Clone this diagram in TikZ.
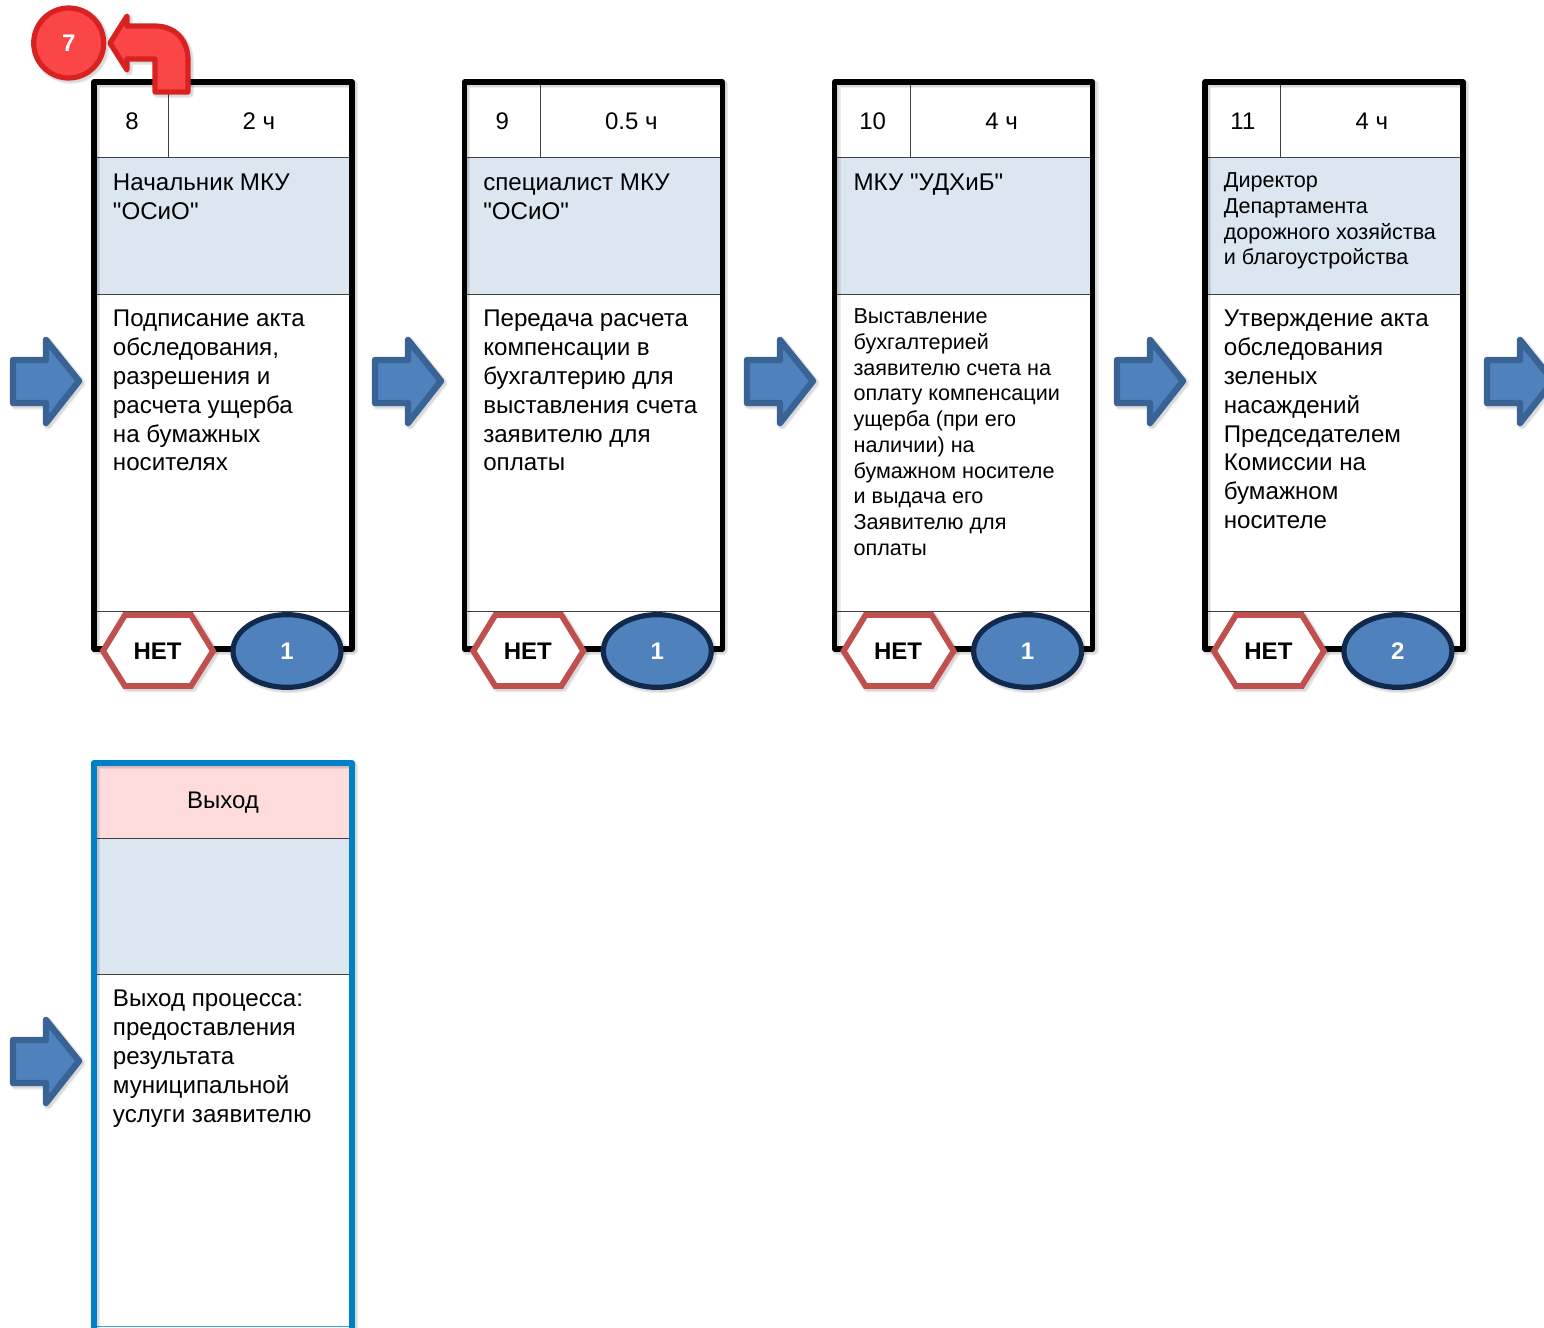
\documentclass[tikz,border=0pt]{standalone}
\usepackage{fontspec}
\setmainfont{Liberation Sans}
\newfontfamily\plainf{Liberation Sans}
\usetikzlibrary{shapes.geometric}
\definecolor{paleblue}{HTML}{DCE6F1}
\definecolor{palepink}{HTML}{FFDCDC}
\definecolor{arrowfill}{HTML}{4F81BD}
\definecolor{arrowline}{HTML}{3A6395}
\definecolor{hexline}{HTML}{C0504D}
\definecolor{ovalline}{HTML}{10294D}
\definecolor{redfill}{HTML}{FA4646}
\definecolor{redline}{HTML}{D82222}
\definecolor{exitline}{HTML}{0080C4}
\definecolor{exitthin}{HTML}{3BA6DF}
\definecolor{shadowc}{HTML}{000000}
\tikzset{
  x=0.75pt,y=-0.75pt,
  softshadow/.style={preaction={draw=shadowc,draw opacity=0.08,line join=round,line width=#1,fill=none,transform canvas={xshift=1.5pt,yshift=-1.5pt}},
                     preaction={draw=shadowc,draw opacity=0.08,line join=round,line width=#1+2pt,fill=none,transform canvas={xshift=1.5pt,yshift=-1.5pt}}},
  frameline/.style={line width=3.9pt,line join=round},
  thinline/.style={line width=0.75pt,draw=black!75},
  bodytxt/.style={anchor=north west,inner sep=0pt,align=left,font=\plainf\fontsize{18.1}{21.6}\selectfont},
  smalltxt/.style={anchor=north west,inner sep=0pt,align=left,font=\plainf\fontsize{16.2}{19.3}\selectfont},
  celltxt/.style={inner sep=0pt,font=\plainf\fontsize{18}{21.6}\selectfont},
  boldtxt/.style={inner sep=0pt,font=\plainf\bfseries\fontsize{18}{21}\selectfont},
  blockarrow/.style={draw=arrowline,fill=arrowfill,line width=4.8pt,line join=round,softshadow=4.8pt},
}
\newcommand{\hexa}[1]{%
  \filldraw[draw=hexline,fill=white,line width=4.4pt,line join=miter,softshadow=4.4pt]
    (#1-55,651) -- (#1-33,615) -- (#1+33,615) -- (#1+55,651) -- (#1+33,686) -- (#1-33,686) -- cycle;}
\newcommand{\arrowat}[2]{%
  \begin{scope}[shift={(#1,#2)}]
    \path[blockarrow] (13,360) -- (46,360) -- (46,340) -- (79,381) -- (46,423) -- (46,403) -- (13,403) -- cycle;
  \end{scope}}
\newcommand{\card}[8]{%
  % #1 x offset, #2 number, #3 time, #4 role style, #5 role, #6 role y, #7 contents, #8 cell shift
  \begin{scope}[shift={(#1,0)}]
    \fill[paleblue] (94,158) rectangle (352,294);
    \draw[thinline] (94,158) -- (352,158) (94,294) -- (352,294) (94,611) -- (352,611) (168+#8,82) -- (168+#8,158);
    \draw[frameline,softshadow=3.9pt] (94,82) rectangle (352,649);
    \node[celltxt] (num#2) at (132,121) {#2};
    \node[celltxt] (time#2) at (259+#8,121) {#3};
    \node[#4] (role#2) at (112.7,#6) {#5};
    #7
  \end{scope}}
\newcommand{\badge}[2]{%
  \hexa{158}
  \node[boldtxt] (net#1) at (157.5,651) {НЕТ};
  \node[ellipse,draw=ovalline,fill=arrowfill,line width=3.9pt,minimum width=81pt,minimum height=54.5pt,inner sep=0pt,softshadow=3.9pt,text=white,boldtxt] (oval#1) at (287,651) {#2};}
\begin{document}
\begin{tikzpicture}
\useasboundingbox (0,0) rectangle (1544,1327);
% cards
\card{0}{8}{2 ч}{bodytxt}{Начальник МКУ\\"ОСиО"}{174}{%
  \node[bodytxt] (body8) at (112.7,310) {Подписание акта\\обследования,\\разрешения и\\расчета ущерба\\на бумажных\\носителях};
  \badge{8}{1}}{0}
\card{370.3}{9}{0.5 ч}{bodytxt}{специалист МКУ\\"ОСиО"}{174}{%
  \node[bodytxt] (body9) at (112.7,310) {Передача расчета\\компенсации в\\бухгалтерию для\\выставления счета\\заявителю для\\оплаты};
  \badge{9}{1}}{2}
\card{740.6}{10}{4 ч}{bodytxt}{МКУ "УДХиБ"}{174}{%
  \node[smalltxt] (body10) at (112.7,308.5) {Выставление\\бухгалтерией\\заявителю счета на\\оплату компенсации\\ущерба (при его\\наличии) на\\бумажном носителе\\и выдача его\\Заявителю для\\оплаты};
  \badge{10}{1}}{2}
\card{1110.9}{11}{4 ч}{smalltxt}{Директор\\Департамента\\дорожного хозяйства\\и благоустройства}{172.5}{%
  \node[bodytxt] (body11) at (112.7,310) {Утверждение акта\\обследования\\зеленых\\насаждений\\Председателем\\Комиссии на\\бумажном\\носителе};
  \badge{11}{2}}{2}
% red return marker
\path[draw=redline,fill=redfill,line width=3.9pt,line join=round,softshadow=3.9pt]
  (110,43) -- (127,16) -- (127,26) -- (155,26) .. controls (175,26) and (188,40) .. (188,60) -- (188,92) -- (155,92) -- (155,59) -- (127,59) -- (127,70) -- cycle;
\node[circle,draw=redline,fill=redfill,line width=3.9pt,minimum size=52.5pt,inner sep=0pt,softshadow=3.9pt,text=white,boldtxt] (back) at (68.7,43) {7};
% arrows
\arrowat{0}{0}\arrowat{362}{0}\arrowat{734}{0}\arrowat{1104}{0}\arrowat{1474}{0}
\arrowat{0}{680}
% exit card
\fill[palepink] (94,763) rectangle (352,838);
\fill[paleblue] (94,838) rectangle (352,974);
\draw[thinline] (94,838) -- (352,838) (94,974) -- (352,974);
\draw[exitthin,line width=0.75pt] (94,1326.5) -- (352,1326.5);
\draw[exitline,frameline,softshadow=3.9pt] (94,1340) -- (94,763) -- (352,763) -- (352,1340);
\node[celltxt] (exittitle) at (223,803) {Выход};
\node[bodytxt] (exitbody) at (112.7,990) {Выход процесса:\\предоставления\\результата\\муниципальной\\услуги заявителю};
\end{tikzpicture}
\end{document}
